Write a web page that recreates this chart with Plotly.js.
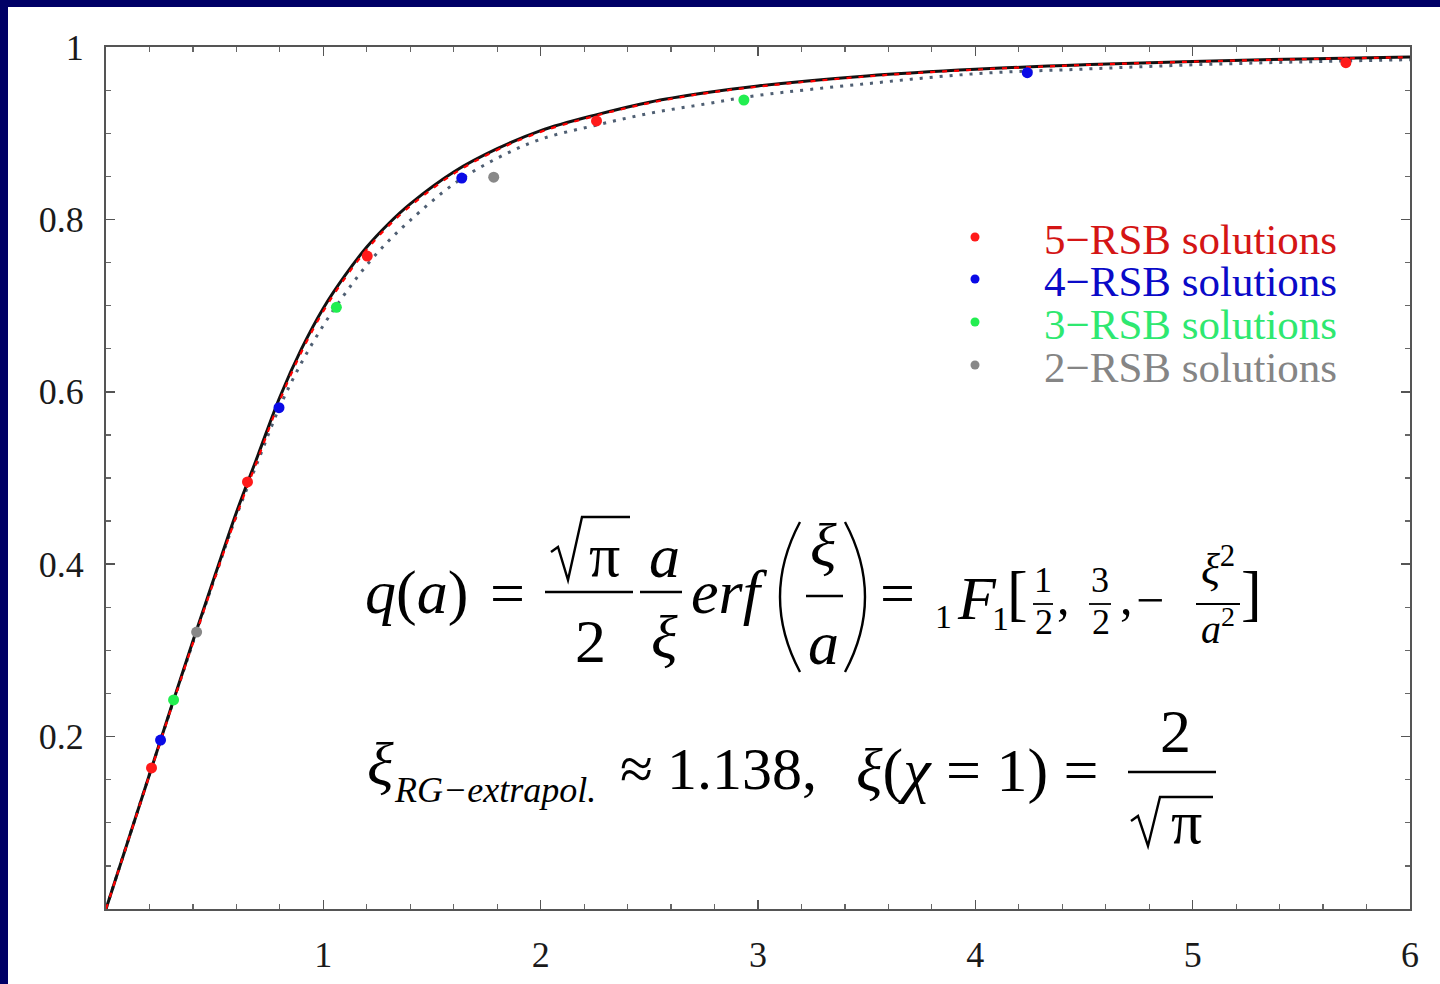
<!DOCTYPE html>
<html>
<head>
<meta charset="utf-8">
<script src="https://cdn.plot.ly/plotly-3.0.1.min.js"></script>
<style>
  html, body { margin: 0; padding: 0; background: #000066; }
  #chart { position: absolute; left: 8px; top: 7px; width: 1432px; height: 977px; background: #ffffff; }
</style>
</head>
<body>
<div id="chart"></div>
<script>
// Overlap q(a) as a function of a
const aGrid   = [0, 0.1, 0.2, 0.3, 0.4, 0.5, 0.6, 0.7, 0.8, 0.9, 1.0, 1.1, 1.2, 1.3, 1.4, 1.6, 1.8, 2.0, 2.25, 2.5, 2.75, 3.0, 3.5, 4.0, 4.5, 5.0, 5.5, 6.0];
// xi = 2/sqrt(pi)  (chi = 1)
const qChi1   = [0, 0.078, 0.156, 0.234, 0.311, 0.386, 0.460, 0.527, 0.594, 0.650, 0.697, 0.735, 0.768, 0.795, 0.818, 0.855, 0.882, 0.903, 0.921, 0.936, 0.9466, 0.9548, 0.9664, 0.9741, 0.9794, 0.9833, 0.9862, 0.9883];
// xi = 1.138  (RG extrapolation)
const qRG     = [0, 0.0775, 0.1552, 0.2325, 0.3085, 0.383, 0.456, 0.523, 0.590, 0.6465, 0.6935, 0.732, 0.765, 0.7925, 0.8155, 0.853, 0.8805, 0.9015, 0.920, 0.935, 0.946, 0.954, 0.9658, 0.9737, 0.9791, 0.983, 0.9859, 0.9881];
// interpolation through the RSB solutions
const qFit    = [0, 0.078, 0.156, 0.233, 0.309, 0.384, 0.456, 0.520, 0.583, 0.634, 0.677, 0.714, 0.747, 0.775, 0.799, 0.841, 0.871, 0.893, 0.909, 0.923, 0.9336, 0.9438, 0.9574, 0.969, 0.9744, 0.9793, 0.9827, 0.9853];

// RSB solutions
const rsb5A = [0.2095, 0.651, 1.202, 2.257, 5.705];
const rsb5Q = [0.1636, 0.4954, 0.7575, 0.9142, 0.9818];
const rsb4A = [0.251, 0.796, 1.637, 4.239];
const rsb4Q = [0.196, 0.5816, 0.848, 0.9702];
const rsb3A = [0.311, 1.060, 2.935];
const rsb3Q = [0.2425, 0.698, 0.9385];
const rsb2A = [0.417, 1.784];
const rsb2Q = [0.3213, 0.849];

const xTicks = [1, 2, 3, 4, 5, 6];
const xTickText = ['1', '2', '3', '4', '5', '6'];
const yTicks = [0.2, 0.4, 0.6, 0.8, 1];
const yTickText = ['0.2', '0.4', '0.6', '0.8', '1'];

const legendNames  = ['5\u2212RSB solutions', '4\u2212RSB solutions', '3\u2212RSB solutions', '2\u2212RSB solutions'];
const legendText   = ['#d41515', '#0a0ac8', '#2ee870', '#858585'];
const markerColors = ['#ff1a1a', '#0a0ae6', '#22ee50', '#888888'];

const SERIF = 'Liberation Serif';

// page pixel -> paper coordinates (plot area spans x 106..1410, y 47..909 on the page)
const PX0 = 106, PW = 1304, PY0 = 909, PH = 862;
const toX = px => (px - PX0) / PW;
const toY = py => (PY0 - py) / PH;

function txt(text, px, py, size, anchor, color) {
  return {
    xref: 'paper', yref: 'paper', x: toX(px), y: toY(py),
    text: text, showarrow: false,
    xanchor: anchor || 'center', yanchor: 'middle',
    borderpad: 0,
    font: { family: SERIF, size: size, color: color || '#000000' }
  };
}
function bar(px0, px1, py, w) {
  return { type: 'line', xref: 'paper', yref: 'paper',
    x0: toX(px0), x1: toX(px1), y0: toY(py), y1: toY(py),
    line: { color: '#000000', width: w || 2.4 } };
}
function path(pts, w) {
  let d = '';
  pts.forEach((p, i) => {
    if (p[0] === 'Q') {
      d += ' Q ' + toX(p[1]) + ',' + toY(p[2]) + ' ' + toX(p[3]) + ',' + toY(p[4]);
    } else {
      d += (i === 0 ? 'M ' : ' L ') + toX(p[0]) + ',' + toY(p[1]);
    }
  });
  return { type: 'path', xref: 'paper', yref: 'paper', path: d,
    line: { color: '#000000', width: w || 2.4 } };
}
function dot(px, py, r, color) {
  return { type: 'circle', xref: 'paper', yref: 'paper',
    x0: toX(px - r), x1: toX(px + r), y0: toY(py + r), y1: toY(py - r),
    fillcolor: color, line: { width: 0 } };
}

const traces = [
  { x: aGrid, y: qFit, mode: 'lines', line: { color: '#4f5f73', width: 3, dash: '3px,7px', shape: 'spline' }, hoverinfo: 'skip' },
  { x: aGrid, y: qChi1, mode: 'lines', line: { color: '#111111', width: 3, shape: 'spline' }, hoverinfo: 'skip' },
  { x: aGrid, y: qRG, mode: 'lines', line: { color: '#ff0000', width: 2.2, dash: '5px,7px', shape: 'spline' }, hoverinfo: 'skip' },
  { x: rsb5A, y: rsb5Q, mode: 'markers', marker: { color: markerColors[0], size: 11 } },
  { x: rsb4A, y: rsb4Q, mode: 'markers', marker: { color: markerColors[1], size: 11 } },
  { x: rsb3A, y: rsb3Q, mode: 'markers', marker: { color: markerColors[2], size: 11 } },
  { x: rsb2A, y: rsb2Q, mode: 'markers', marker: { color: markerColors[3], size: 11 } }
];

const annotations = [];
const shapes = [];

// legend
const rowY = [239, 281, 324, 367];
legendNames.forEach((name, i) => {
  annotations.push(txt(name, 1043, rowY[i], 43, 'left', legendText[i]));
  shapes.push(dot(975, rowY[i] - 2, 4.5, markerColors[i]));
});

// q(a) = sqrt(pi)/2 * a/xi * erf(xi/a) = 1F1[1/2, 3/2, -xi^2/a^2]
const F = 62;
annotations.push(txt('<i>q</i>(<i>a</i>)', 364, 593, F, 'left'));
annotations.push(txt('=', 507, 593, F));
annotations.push(txt('\u03c0', 604, 555, F));
shapes.push(path([[551, 552], [558, 547], [568, 580], [582, 517], [630, 517]], 2.4));
shapes.push(bar(545, 633, 592));
annotations.push(txt('2', 590, 641, F));
annotations.push(txt('<i>a</i>', 664, 556, F));
shapes.push(bar(640, 682, 592));
annotations.push(txt('<i>\u03be</i>', 664, 637, F));
annotations.push(txt('<i>erf</i>', 690, 592, F, 'left'));
shapes.push(path([[800, 522], ['Q', 760, 597, 800, 672]], 2.4));
annotations.push(txt('<i>\u03be</i>', 823, 545, F));
shapes.push(bar(806, 843, 596));
annotations.push(txt('<i>a</i>', 823, 643, F));
shapes.push(path([[845, 522], ['Q', 885, 597, 845, 672]], 2.4));
annotations.push(txt('=', 897, 593, F));
annotations.push(txt('1', 944, 616, 34));
annotations.push(txt('<i>F</i>', 956, 598, F, 'left'));
annotations.push(txt('1', 1000, 618, 34));
annotations.push(txt('[', 1017, 593, F));
annotations.push(txt('1', 1043, 580, 36));
shapes.push(bar(1033, 1053, 604, 1.8));
annotations.push(txt('2', 1044, 622, 36));
annotations.push(txt(',', 1063, 597, 50));
annotations.push(txt('3', 1100, 580, 36));
shapes.push(bar(1089, 1111, 604, 1.8));
annotations.push(txt('2', 1101, 622, 36));
annotations.push(txt(',', 1126, 597, 50));
annotations.push(txt('\u2212', 1150, 600, 50));
annotations.push(txt('<i>\u03be</i><sup>2</sup>', 1218, 566, 44));
shapes.push(bar(1196, 1240, 604, 1.8));
annotations.push(txt('<i>a</i><sup>2</sup>', 1218, 626, 40));
annotations.push(txt(']', 1251, 593, F));

// xi_RG-extrapol. ~ 1.138,  xi(chi = 1) = 2/sqrt(pi)
annotations.push(txt('<i>\u03be</i>', 366, 764, F, 'left'));
annotations.push(txt('<i>RG\u2212extrapol.</i>', 393, 790, 36, 'left'));
annotations.push(txt('\u2248', 636, 769, 60));
annotations.push(txt('1.138,', 666, 769, 60, 'left'));
annotations.push(txt('<i>\u03be</i>(<i>\u03c7</i> = 1) =', 855, 770, 62, 'left'));
annotations.push(txt('2', 1175, 731, F));
shapes.push(bar(1128, 1216, 772));
shapes.push(path([[1131, 821], [1138, 816], [1148, 846], [1160, 797], [1213, 797]], 2.4));
annotations.push(txt('\u03c0', 1186, 822, F));

const axisCommon = {
  showgrid: false, zeroline: false,
  showline: true, linecolor: '#555555', linewidth: 2, mirror: 'ticks',
  ticks: 'inside', ticklen: 9, tickwidth: 1.5, tickcolor: '#555555',
  tickfont: { family: SERIF, size: 36, color: '#1a1a1a' },
  fixedrange: true
};

const layout = {
  width: 1432, height: 977,
  margin: { l: 98, r: 30, t: 40, b: 75 },
  paper_bgcolor: '#ffffff', plot_bgcolor: '#ffffff',
  showlegend: false,
  font: { family: SERIF },
  xaxis: Object.assign({}, axisCommon, {
    range: [0, 6], tickmode: 'array', tickvals: xTicks, ticktext: xTickText,
    ticklabelstandoff: 13,
    minor: { tickmode: 'linear', tick0: 0, dtick: 0.2, ticks: 'inside', ticklen: 5, tickwidth: 1.2, tickcolor: '#666666' }
  }),
  yaxis: Object.assign({}, axisCommon, {
    range: [0, 1], tickmode: 'array', tickvals: yTicks, ticktext: yTickText,
    ticklabelstandoff: 13,
    minor: { tickmode: 'linear', tick0: 0, dtick: 0.05, ticks: 'inside', ticklen: 5, tickwidth: 1.2, tickcolor: '#666666' }
  }),
  annotations: annotations,
  shapes: shapes
};

Plotly.newPlot('chart', traces, layout, { staticPlot: true, displayModeBar: false });
</script>
</body>
</html>
